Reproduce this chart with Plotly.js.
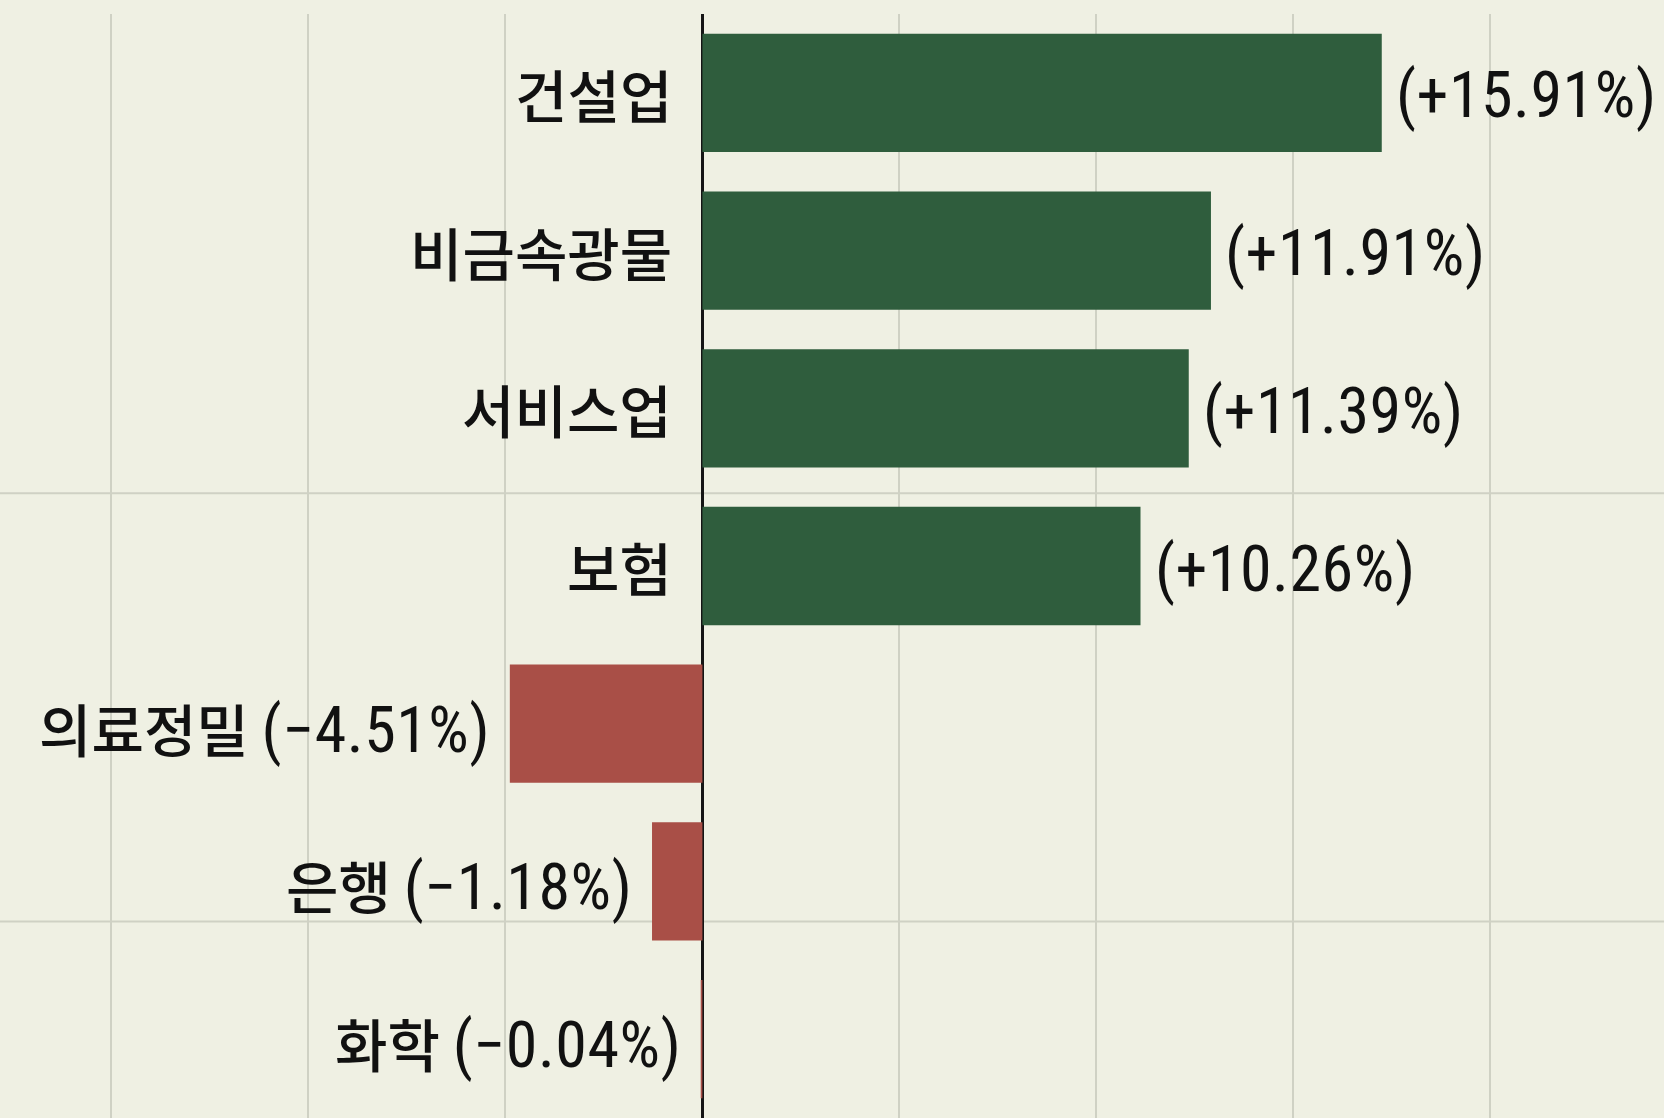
<!DOCTYPE html>
<html>
<head>
<meta charset="utf-8">
<script src="https://cdn.plot.ly/plotly-3.0.1.min.js"></script>
<style>
  html, body { margin: 0; padding: 0; background: #eff0e3; }
  #chart { width: 1664px; height: 1118px; }
</style>
</head>
<body>
<div id="chart"></div>
<script>
// ---- data ----
const categories = ['건설업', '비금속광물', '서비스업', '보험', '의료정밀', '은행', '화학'];
const values = [15.91, 11.91, 11.39, 10.26, -4.51, -1.18, -0.04];

// ---- styles ----
const GREEN = '#2f5d3d';
const RED = '#a94f47';
const BG = '#eff0e3';
const GRID = '#cfd1c4';
const KFONT = "'Noto Sans CJK KR', 'Noto Sans', sans-serif";
const NFONT = "'Roboto Condensed', Roboto, sans-serif";

function fmt(v) {
  return '(' + (v > 0 ? '+' : '−') + Math.abs(v).toFixed(2) + '%)';
}
function numSpan(v) {
  return '<span style="font-family:' + NFONT + ';font-size:64px;font-weight:400;letter-spacing:0.5px">' + fmt(v) + '</span>';
}

const colors = values.map(v => v >= 0 ? GREEN : RED);

const annotations = [];
values.forEach((v, i) => {
  if (v >= 0) {
    annotations.push({
      x: 0, y: categories[i], xref: 'x', yref: 'y',
      text: categories[i], showarrow: false,
      xanchor: 'right', yanchor: 'middle', xshift: -28,
      font: { family: KFONT, size: 57, color: '#111', weight: 500 }
    });
    annotations.push({
      x: v, y: categories[i], xref: 'x', yref: 'y',
      text: numSpan(v), showarrow: false,
      xanchor: 'left', yanchor: 'middle', xshift: 12, yshift: -3,
      font: { family: NFONT, size: 64, color: '#111', weight: 400 }
    });
  } else {
    annotations.push({
      x: v, y: categories[i], xref: 'x', yref: 'y',
      text: categories[i] + '\u00a0' + numSpan(v), showarrow: false,
      xanchor: 'right', yanchor: 'middle', xshift: -18, yshift: -3,
      font: { family: KFONT, size: 57, color: '#111', weight: 500 }
    });
  }
});

const trace = {
  type: 'bar',
  orientation: 'h',
  x: values,
  y: categories,
  width: 0.75,
  marker: { color: colors, line: { width: 0 } },
  hoverinfo: 'none'
};

const layout = {
  width: 1664,
  height: 1118,
  margin: { l: 0, r: 0, t: 14, b: 0, pad: 0 },
  paper_bgcolor: BG,
  plot_bgcolor: BG,
  showlegend: false,
  xaxis: {
    range: [-16.45, 22.52],
    tick0: 0,
    dtick: 4.614,
    showgrid: true,
    gridcolor: GRID,
    gridwidth: 2,
    zeroline: true,
    zerolinecolor: '#151515',
    zerolinewidth: 3,
    showticklabels: false,
    ticks: '',
    showline: false,
    fixedrange: true
  },
  yaxis: {
    type: 'category',
    categoryorder: 'array',
    categoryarray: categories,
    autorange: 'reversed',
    showgrid: false,
    zeroline: false,
    showticklabels: false,
    ticks: '',
    showline: false,
    fixedrange: true
  },
  shapes: [
    { type: 'line', xref: 'paper', yref: 'paper', x0: 0, x1: 1, y0: 0.566, y1: 0.566,
      line: { color: GRID, width: 2 }, layer: 'below' },
    { type: 'line', xref: 'paper', yref: 'paper', x0: 0, x1: 1, y0: 0.178, y1: 0.178,
      line: { color: GRID, width: 2 }, layer: 'below' }
  ],
  annotations: annotations
};

Plotly.newPlot('chart', [trace], layout, { displayModeBar: false, staticPlot: true });
</script>
</body>
</html>
